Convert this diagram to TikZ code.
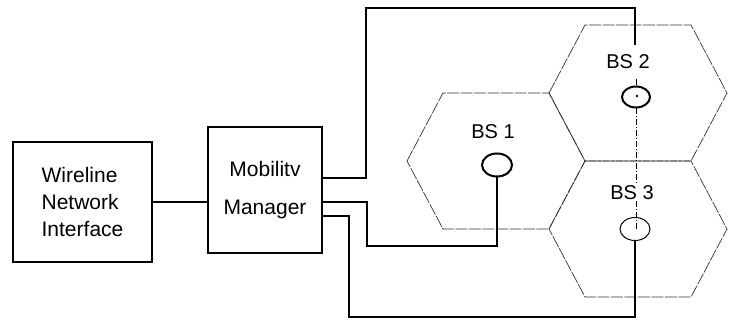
\documentclass[tikz,border=0pt]{standalone}
\usepackage{fontspec}
\setmainfont{Liberation Sans}
\usetikzlibrary{shapes.geometric, calc}

\begin{document}
\begin{tikzpicture}[x=1pt,y=1pt,
  box/.style={draw, line width=2pt, align=center, font=\fontsize{21}{27}\selectfont},
  link/.style={line width=1.6pt},
  cell/.style={line width=0.7pt, draw=black!80, dash pattern=on 12pt off 1.5pt},
  station/.style={ellipse, draw, inner sep=0pt, minimum width=30pt, minimum height=23pt},
  lbl/.style={font=\fontsize{20}{23}\selectfont, inner sep=1pt}]
\useasboundingbox (0,0) rectangle (730,321);
\foreach \c in {(496,160),(638,228),(638,92)}
  \draw[cell] \c ++(-89,0) -- ++(36,68) -- ++(106,0) -- ++(36,-68) -- ++(-36,-68) -- ++(-106,0) -- cycle;
\node[box, align=left, minimum width=139pt, minimum height=120pt] (wni) at (82.5,119) {Wireline\\Network\\Interface};
\node[box, minimum width=114pt, minimum height=126pt, font=\fontsize{21}{38}\selectfont] (mm) at (265,131) {Mobilitv\\Manager};
\node[station, line width=2pt] (bs1) at (497,156) {};
\node[station, line width=2pt, minimum width=28pt, minimum height=21pt] (bs2) at (636,224) {};
\node[station, line width=1pt] (bs3) at (635,92) {};
\node[lbl] (bs1lbl) at (493,189) {BS 1};
\node[lbl] (bs2lbl) at (628,259) {BS 2};
\node[lbl] (bs3lbl) at (632,128) {BS 3};
\fill (637,225) circle (1.3pt);
\coordinate (m1) at ($(mm.east)+(0,12)$);
\coordinate (m2) at ($(mm.east)+(0,-12)$);
\coordinate (m3) at ($(mm.east)+(0,-26)$);
\coordinate (r1) at (366,313);
\coordinate (r2) at (367,75);
\coordinate (r3) at (349,4);
\coordinate (t2) at (635,276);
\draw[link] (wni.east) -- (wni.east -| mm.west);
\draw[link] (m1) -| (r1) -| (t2);
\draw[link] (m2) -| (r2) -| (bs1.south);
\draw[link] (m3) -| (r3) -| (bs3.south);
\draw[line width=1pt] (bs2.north) -- ++(0,6);
\draw[line width=0.6pt, dash pattern=on 6pt off 2pt on 1pt off 2pt] (bs2.south) -- (bs2.south |- bs3lbl.north);
\draw[line width=0.6pt, dash pattern=on 6pt off 2pt on 1pt off 2pt] (bs2.south |- bs3lbl.south) -- (bs2.south |- bs3.center);
\end{tikzpicture}
\end{document}
